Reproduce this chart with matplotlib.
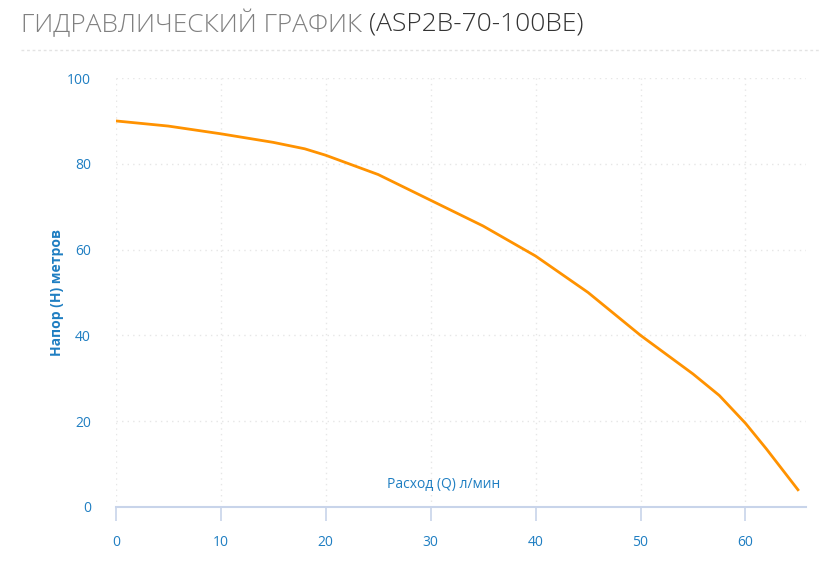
import matplotlib.pyplot as plt

# head curve
flow = [0, 5, 10, 15, 18, 20, 25, 30, 35, 40, 45, 50, 55, 57.5, 60, 62, 65]
head = [90, 88.8, 87, 85, 83.5, 82, 77.5, 71.5, 65.5, 58.5, 50, 40, 31, 26, 19.5, 13.5, 4]
xticks = [0, 10, 20, 30, 40, 50, 60]
yticks = [0, 20, 40, 60, 80, 100]

blue = '#1f7ec2'
plt.rcParams['font.family'] = ['Open Sans', 'DejaVu Sans']

fig = plt.figure(figsize=(8.33, 5.78), dpi=100)
ax = fig.add_axes([0.139, 0.123, 0.829, 0.742])
ax.plot(flow, head, color='#ff9200', lw=2)
ax.set_xlim(0, 65.8)
ax.set_ylim(0, 100)
ax.set_xticks(xticks)
ax.set_yticks(yticks)
ax.grid(True, color='#e6e6e6', ls=(0, (1, 3)), lw=1)
for s in ['top', 'right', 'left']:
    ax.spines[s].set_visible(False)
ax.spines['bottom'].set_color('#c8d4ea')
ax.spines['bottom'].set_linewidth(1.5)
ax.tick_params(axis='x', colors='#c8d4ea', length=10, width=1.2, pad=10, labelcolor=blue, labelsize=10)
ax.tick_params(axis='y', length=0, pad=18, labelcolor=blue, labelsize=10)
ax.set_ylabel('Напор (H) метров', color=blue, fontsize=10, fontweight='bold', labelpad=2)
ax.text(0.475, 0.035, 'Расход (Q) л/мин', transform=ax.transAxes, ha='center', va='bottom', color=blue, fontsize=10)

t1 = fig.text(0.025, 0.958, 'ГИДРАВЛИЧЕСКИЙ ГРАФИК ', fontsize=19, color='#808080',
              va='center', fontweight='light')
fig.canvas.draw()
bb = t1.get_window_extent().transformed(fig.transFigure.inverted())
fig.text(bb.x1, 0.958, '(ASP2B-70-100BE)', fontsize=19, color='#333333', va='center', fontweight='light')
fig.add_artist(plt.Line2D([0.025, 0.985], [0.913, 0.913], color='#e3e3e3', ls=(0, (2, 2)), lw=1))

fig.savefig('out.png', dpi=100)
